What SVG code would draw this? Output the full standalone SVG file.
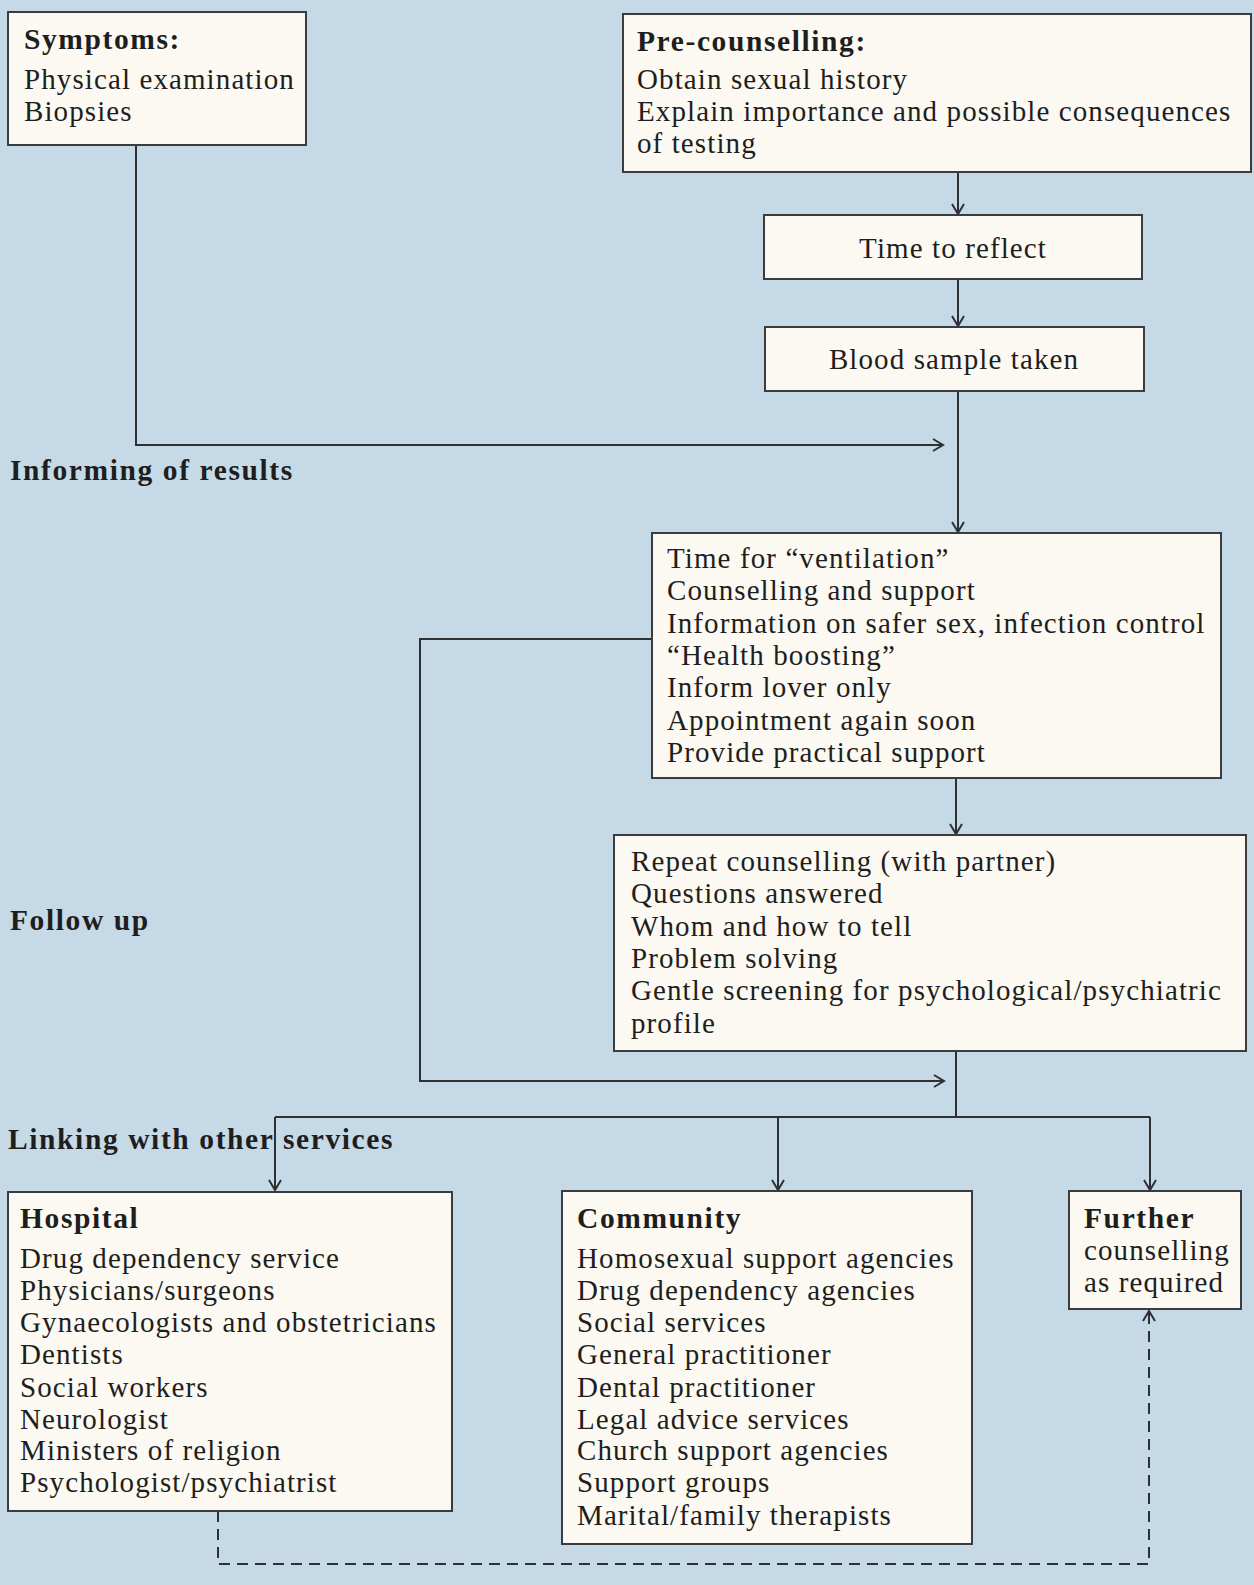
<svg xmlns="http://www.w3.org/2000/svg" width="1254" height="1585" viewBox="0 0 1254 1585">
<style>
.box{fill:#fbf9f1;stroke:#3a3d40;stroke-width:2}
.t{font-family:"Liberation Serif","Times New Roman",serif;font-size:29px;letter-spacing:1.1px;fill:#1e1e1e}
.b{font-family:"Liberation Serif","Times New Roman",serif;font-size:29.5px;letter-spacing:1.6px;font-weight:bold;fill:#1e1e1e}
.c{fill:none;stroke:#2e3033;stroke-width:2}
.d{fill:none;stroke:#2e3033;stroke-width:2;stroke-dasharray:11 7}
</style>
<defs>
<marker id="arr" markerUnits="userSpaceOnUse" markerWidth="14" markerHeight="16" refX="11" refY="7" orient="auto">
<path d="M1,1 L11,7 L1,13" fill="none" stroke="#2e3033" stroke-width="2"/>
</marker>
</defs>
<rect x="0" y="0" width="1254" height="1585" fill="#c5d9e7"/>

<g id="connectors">
<path class="c" d="M136,145 V445 H943" marker-end="url(#arr)"/>
<path class="c" d="M958,172 V214" marker-end="url(#arr)"/>
<path class="c" d="M958,279 V326" marker-end="url(#arr)"/>
<path class="c" d="M958,391 V532" marker-end="url(#arr)"/>
<path class="c" d="M652,639 H420 V1081 H944" marker-end="url(#arr)"/>
<path class="c" d="M956,778 V834" marker-end="url(#arr)"/>
<path class="c" d="M956,1051 V1117"/>
<path class="c" d="M275,1117 H1150"/>
<path class="c" d="M275,1117 V1190" marker-end="url(#arr)"/>
<path class="c" d="M778,1117 V1190" marker-end="url(#arr)"/>
<path class="c" d="M1150,1117 V1190" marker-end="url(#arr)"/>
<path class="d" d="M218,1511 V1564 H1149 V1311" marker-end="url(#arr)"/>
</g>

<g id="symptoms">
<rect class="box" x="8" y="12" width="298" height="133"/>
<text class="b" x="24" y="49">Symptoms:</text>
<text class="t" x="24" y="89">Physical examination</text>
<text class="t" x="24" y="121">Biopsies</text>
</g>

<g id="precounselling">
<rect class="box" x="623" y="14" width="628" height="158"/>
<text class="b" x="637" y="51">Pre-counselling:</text>
<text class="t" x="637" y="89">Obtain sexual history</text>
<text class="t" x="637" y="121">Explain importance and possible consequences</text>
<text class="t" x="637" y="153">of testing</text>
</g>

<g id="reflect">
<rect class="box" x="764" y="215" width="378" height="64"/>
<text class="t" x="953" y="258" text-anchor="middle">Time to reflect</text>
</g>

<g id="blood">
<rect class="box" x="765" y="327" width="379" height="64"/>
<text class="t" x="954" y="369" text-anchor="middle">Blood sample taken</text>
</g>

<g id="label-informing">
<text class="b" x="10" y="480">Informing of results</text>
</g>

<g id="ventilation">
<rect class="box" x="652" y="533" width="569" height="245"/>
<text class="t" x="667" y="568">Time for “ventilation”</text>
<text class="t" x="667" y="600">Counselling and support</text>
<text class="t" x="667" y="633">Information on safer sex, infection control</text>
<text class="t" x="667" y="665">“Health boosting”</text>
<text class="t" x="667" y="697">Inform lover only</text>
<text class="t" x="667" y="730">Appointment again soon</text>
<text class="t" x="667" y="762">Provide practical support</text>
</g>

<g id="repeat">
<rect class="box" x="614" y="835" width="632" height="216"/>
<text class="t" x="631" y="871">Repeat counselling (with partner)</text>
<text class="t" x="631" y="903">Questions answered</text>
<text class="t" x="631" y="936">Whom and how to tell</text>
<text class="t" x="631" y="968">Problem solving</text>
<text class="t" x="631" y="1000">Gentle screening for psychological/psychiatric</text>
<text class="t" x="631" y="1033">profile</text>
</g>

<g id="label-followup">
<text class="b" x="10" y="930">Follow up</text>
</g>

<g id="label-linking">
<text class="b" x="8" y="1149">Linking with other services</text>
</g>

<g id="hospital">
<rect class="box" x="8" y="1192" width="444" height="319"/>
<text class="b" x="20" y="1228">Hospital</text>
<text class="t" x="20" y="1268">Drug dependency service</text>
<text class="t" x="20" y="1300">Physicians/surgeons</text>
<text class="t" x="20" y="1332">Gynaecologists and obstetricians</text>
<text class="t" x="20" y="1364">Dentists</text>
<text class="t" x="20" y="1397">Social workers</text>
<text class="t" x="20" y="1429">Neurologist</text>
<text class="t" x="20" y="1460">Ministers of religion</text>
<text class="t" x="20" y="1492">Psychologist/psychiatrist</text>
</g>

<g id="community">
<rect class="box" x="562" y="1191" width="410" height="353"/>
<text class="b" x="577" y="1228">Community</text>
<text class="t" x="577" y="1268">Homosexual support agencies</text>
<text class="t" x="577" y="1300">Drug dependency agencies</text>
<text class="t" x="577" y="1332">Social services</text>
<text class="t" x="577" y="1364">General practitioner</text>
<text class="t" x="577" y="1397">Dental practitioner</text>
<text class="t" x="577" y="1429">Legal advice services</text>
<text class="t" x="577" y="1460">Church support agencies</text>
<text class="t" x="577" y="1492">Support groups</text>
<text class="t" x="577" y="1525">Marital/family therapists</text>
</g>

<g id="further">
<rect class="box" x="1069" y="1191" width="172" height="118"/>
<text class="b" x="1084" y="1228">Further</text>
<text class="t" x="1084" y="1260">counselling</text>
<text class="t" x="1084" y="1292">as required</text>
</g>
</svg>
